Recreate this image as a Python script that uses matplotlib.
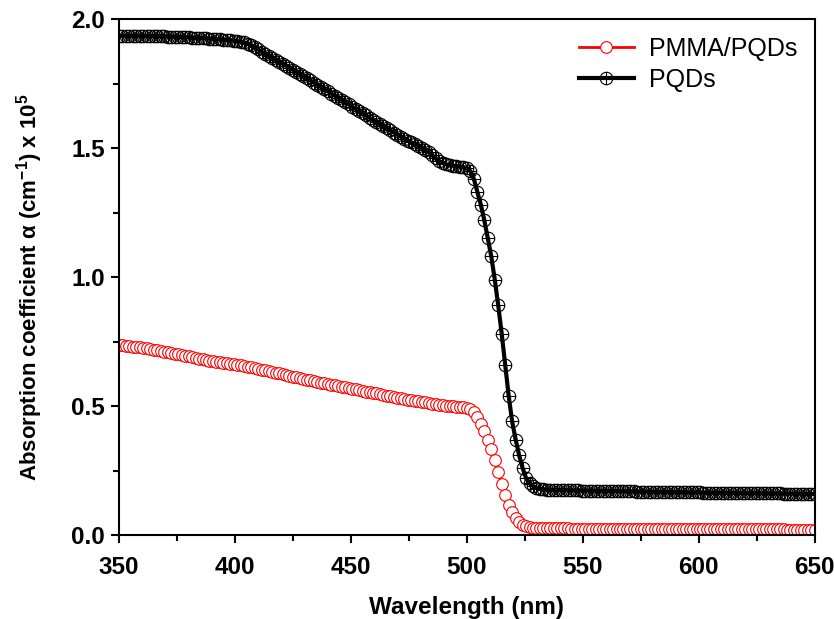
import matplotlib
matplotlib.use("Agg")
from matplotlib import pyplot as plt
from matplotlib.path import Path
from matplotlib.ticker import MultipleLocator

# длины волн, нм (шаг 1.5 нм)
wavelength = [
    350.0, 351.5, 353.0, 354.5, 356.0, 357.5, 359.0, 360.5, 362.0, 363.5,
    365.0, 366.5, 368.0, 369.5, 371.0, 372.5, 374.0, 375.5, 377.0, 378.5,
    380.0, 381.5, 383.0, 384.5, 386.0, 387.5, 389.0, 390.5, 392.0, 393.5,
    395.0, 396.5, 398.0, 399.5, 401.0, 402.5, 404.0, 405.5, 407.0, 408.5,
    410.0, 411.5, 413.0, 414.5, 416.0, 417.5, 419.0, 420.5, 422.0, 423.5,
    425.0, 426.5, 428.0, 429.5, 431.0, 432.5, 434.0, 435.5, 437.0, 438.5,
    440.0, 441.5, 443.0, 444.5, 446.0, 447.5, 449.0, 450.5, 452.0, 453.5,
    455.0, 456.5, 458.0, 459.5, 461.0, 462.5, 464.0, 465.5, 467.0, 468.5,
    470.0, 471.5, 473.0, 474.5, 476.0, 477.5, 479.0, 480.5, 482.0, 483.5,
    485.0, 486.5, 488.0, 489.5, 491.0, 492.5, 494.0, 495.5, 497.0, 498.5,
    500.0, 501.5, 503.0, 504.5, 506.0, 507.5, 509.0, 510.5, 512.0, 513.5,
    515.0, 516.5, 518.0, 519.5, 521.0, 522.5, 524.0, 525.5, 527.0, 528.5,
    530.0, 531.5, 533.0, 534.5, 536.0, 537.5, 539.0, 540.5, 542.0, 543.5,
    545.0, 546.5, 548.0, 549.5, 551.0, 552.5, 554.0, 555.5, 557.0, 558.5,
    560.0, 561.5, 563.0, 564.5, 566.0, 567.5, 569.0, 570.5, 572.0, 573.5,
    575.0, 576.5, 578.0, 579.5, 581.0, 582.5, 584.0, 585.5, 587.0, 588.5,
    590.0, 591.5, 593.0, 594.5, 596.0, 597.5, 599.0, 600.5, 602.0, 603.5,
    605.0, 606.5, 608.0, 609.5, 611.0, 612.5, 614.0, 615.5, 617.0, 618.5,
    620.0, 621.5, 623.0, 624.5, 626.0, 627.5, 629.0, 630.5, 632.0, 633.5,
    635.0, 636.5, 638.0, 639.5, 641.0, 642.5, 644.0, 645.5, 647.0, 648.5,
    650.0,
]

# PMMA/PQDs, x 10^5 см^-1
alpha_pmma = [
    0.736, 0.735, 0.733, 0.732, 0.730, 0.729, 0.727, 0.725, 0.723, 0.721,
    0.719, 0.716, 0.714, 0.711, 0.708, 0.706, 0.703, 0.700, 0.698, 0.695,
    0.692, 0.689, 0.686, 0.684, 0.681, 0.678, 0.675, 0.673, 0.671, 0.669,
    0.667, 0.665, 0.664, 0.662, 0.660, 0.658, 0.656, 0.653, 0.650, 0.647,
    0.644, 0.641, 0.638, 0.635, 0.632, 0.629, 0.626, 0.623, 0.620, 0.617,
    0.614, 0.611, 0.608, 0.605, 0.602, 0.600, 0.597, 0.594, 0.591, 0.588,
    0.585, 0.583, 0.580, 0.577, 0.575, 0.572, 0.569, 0.567, 0.564, 0.562,
    0.559, 0.556, 0.554, 0.551, 0.549, 0.546, 0.543, 0.540, 0.537, 0.535,
    0.532, 0.530, 0.527, 0.524, 0.522, 0.520, 0.518, 0.516, 0.514, 0.511,
    0.508, 0.506, 0.504, 0.502, 0.501, 0.500, 0.499, 0.498, 0.497, 0.496,
    0.494, 0.488, 0.476, 0.457, 0.432, 0.403, 0.370, 0.333, 0.290, 0.245,
    0.198, 0.155, 0.118, 0.088, 0.065, 0.049, 0.039, 0.033, 0.030, 0.028,
    0.027, 0.027, 0.027, 0.026, 0.026, 0.026, 0.026, 0.026, 0.026, 0.026,
    0.025, 0.025, 0.025, 0.025, 0.025, 0.025, 0.025, 0.025, 0.025, 0.025,
    0.024, 0.024, 0.024, 0.024, 0.024, 0.024, 0.024, 0.024, 0.024, 0.024,
    0.024, 0.024, 0.024, 0.024, 0.023, 0.023, 0.023, 0.023, 0.023, 0.023,
    0.023, 0.023, 0.023, 0.023, 0.023, 0.023, 0.023, 0.023, 0.023, 0.023,
    0.023, 0.023, 0.022, 0.022, 0.022, 0.022, 0.022, 0.022, 0.022, 0.022,
    0.022, 0.022, 0.022, 0.022, 0.022, 0.022, 0.022, 0.022, 0.022, 0.022,
    0.022, 0.022, 0.021, 0.021, 0.021, 0.021, 0.021, 0.021, 0.021, 0.021,
    0.021,
]

# PQDs, x 10^5 см^-1
alpha_pqds = [
    1.935, 1.935, 1.935, 1.935, 1.935, 1.935, 1.935, 1.935, 1.934, 1.934,
    1.934, 1.933, 1.933, 1.933, 1.932, 1.932, 1.931, 1.931, 1.930, 1.930,
    1.929, 1.928, 1.927, 1.927, 1.926, 1.925, 1.924, 1.923, 1.922, 1.921,
    1.920, 1.919, 1.918, 1.916, 1.914, 1.912, 1.909, 1.905, 1.899, 1.891,
    1.882, 1.873, 1.864, 1.856, 1.848, 1.841, 1.834, 1.827, 1.819, 1.811,
    1.803, 1.795, 1.787, 1.778, 1.770, 1.762, 1.753, 1.745, 1.737, 1.728,
    1.720, 1.711, 1.703, 1.695, 1.686, 1.678, 1.669, 1.660, 1.652, 1.643,
    1.634, 1.626, 1.617, 1.608, 1.600, 1.592, 1.584, 1.576, 1.568, 1.560,
    1.552, 1.544, 1.536, 1.529, 1.522, 1.515, 1.508, 1.500, 1.492, 1.483,
    1.472, 1.460, 1.450, 1.442, 1.437, 1.433, 1.431, 1.429, 1.428, 1.426,
    1.422, 1.410, 1.380, 1.330, 1.280, 1.220, 1.150, 1.080, 0.990, 0.890,
    0.780, 0.660, 0.540, 0.440, 0.370, 0.310, 0.260, 0.220, 0.200, 0.190,
    0.183, 0.179, 0.177, 0.176, 0.175, 0.175, 0.175, 0.174, 0.174, 0.174,
    0.173, 0.173, 0.173, 0.172, 0.172, 0.172, 0.172, 0.171, 0.171, 0.171,
    0.171, 0.170, 0.170, 0.170, 0.170, 0.169, 0.169, 0.169, 0.169, 0.168,
    0.168, 0.168, 0.168, 0.167, 0.167, 0.167, 0.167, 0.167, 0.166, 0.166,
    0.166, 0.166, 0.166, 0.165, 0.165, 0.165, 0.165, 0.165, 0.164, 0.164,
    0.164, 0.164, 0.164, 0.163, 0.163, 0.163, 0.163, 0.163, 0.163, 0.162,
    0.162, 0.162, 0.162, 0.162, 0.162, 0.161, 0.161, 0.161, 0.161, 0.161,
    0.161, 0.160, 0.160, 0.160, 0.160, 0.160, 0.160, 0.160, 0.159, 0.159,
    0.159,
]

labels = ["PMMA/PQDs", "PQDs"]

plt.rcParams["font.family"] = ["Liberation Sans", "DejaVu Sans"]
plt.rcParams["mathtext.fontset"] = "custom"
plt.rcParams["mathtext.rm"] = "Liberation Sans"
plt.rcParams["mathtext.bf"] = "Liberation Sans:bold"

# маркер "круг с крестом"
oplus = Path.make_compound_path(
    Path.unit_circle(),
    Path([(-1, 0), (1, 0)]),
    Path([(0, -1), (0, 1)]),
)

fig, ax = plt.subplots(figsize=(8.34, 6.19), dpi=100, facecolor="white")
fig.subplots_adjust(left=0.1427, right=0.977, bottom=0.1357, top=0.9693)

ax.plot(wavelength, alpha_pmma, color="red", lw=2, marker="o", ms=8.4,
        mfc="white", mec="red", mew=0.8, label=labels[0])
ax.plot(wavelength, alpha_pqds, color="black", lw=3, marker=oplus, ms=9,
        mfc="none", mec="black", mew=0.8, label=labels[1])

ax.set_xlim(350, 650)
ax.set_ylim(0, 2.0)
ax.xaxis.set_major_locator(MultipleLocator(50))
ax.xaxis.set_minor_locator(MultipleLocator(25))
ax.yaxis.set_major_locator(MultipleLocator(0.5))
ax.yaxis.set_minor_locator(MultipleLocator(0.25))
ax.tick_params(which="both", direction="out", width=1.5, top=False, right=False)
ax.tick_params(which="major", length=6, labelsize=17.5)
ax.tick_params(which="minor", length=4)
ax.tick_params(axis="x", which="major", pad=9)
ax.tick_params(axis="y", which="major", pad=4)
for lbl in ax.get_xticklabels() + ax.get_yticklabels():
    lbl.set_fontweight("bold")
for sp in ax.spines.values():
    sp.set_linewidth(1.5)

ax.set_xlabel("Wavelength (nm)", fontsize=17.5, fontweight="bold")
ax.set_ylabel(r"Absorption coefficient α (cm$^{\mathbf{-1}}$) x 10$^{\mathbf{5}}$",
              fontsize=16, fontweight="bold")
ax.xaxis.set_label_coords(0.5, -0.118)
ax.yaxis.set_label_coords(-0.106, 0.48)

ax.legend(loc="upper right", frameon=False, fontsize=18, handlelength=2.2,
          handletextpad=0.6, labelspacing=0.3, borderaxespad=0.3)

plt.savefig("out.png", dpi=100, facecolor="white")
